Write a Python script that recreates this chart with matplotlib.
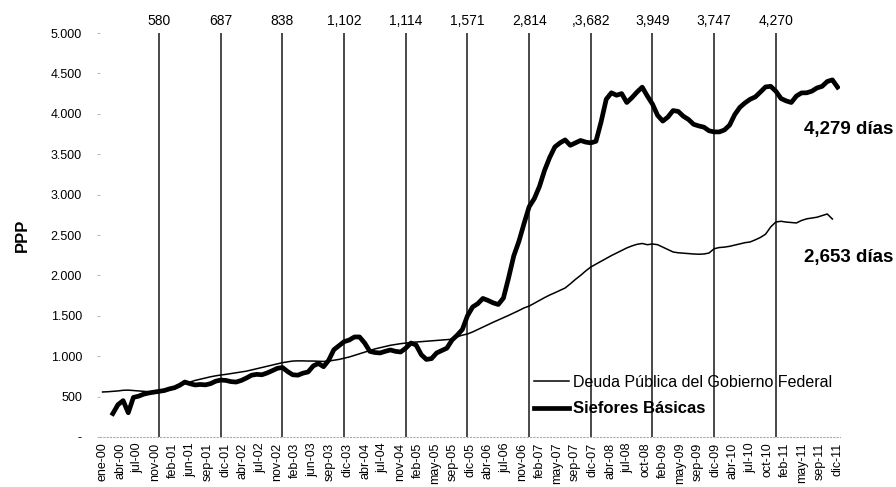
"""Plazo promedio ponderado (PPP): Siefores Basicas vs Deuda Publica."""

import matplotlib.pyplot as plt
import numpy as np
import pandas as pd

plt.rcParams["font.family"] = ["Liberation Sans", "DejaVu Sans"]

# Monthly series, ene-00 .. dic-11
deuda = [
    557, 560, 565, 570, 578, 580, 575, 570, 565, 560, 557, 560,
    590, 605, 620, 640, 660, 680, 700, 715, 730, 745, 757, 767,
    775, 785, 795, 805, 815, 830, 845, 860, 875, 890, 905, 920,
    930, 940, 942, 942, 940, 940, 938, 935, 940, 950, 960, 975,
    990, 1010, 1030, 1050, 1070, 1090, 1105, 1120, 1135, 1145, 1155, 1163,
    1170, 1175, 1180, 1185, 1190, 1195, 1200, 1205, 1210, 1240, 1260, 1275,
    1300, 1330, 1360, 1390, 1420, 1448, 1475, 1505, 1535, 1565, 1597, 1620,
    1655, 1690, 1725, 1757, 1785, 1815, 1844, 1895, 1950, 2000, 2055, 2104,
    2140, 2175, 2210, 2245, 2277, 2310, 2340, 2365, 2385, 2395, 2380, 2389,
    2380, 2350, 2320, 2290, 2280, 2275, 2270, 2265, 2262, 2265, 2277, 2330,
    2345, 2350, 2360, 2375, 2390, 2405, 2414, 2440, 2470, 2510, 2600, 2661,
    2670, 2660, 2655, 2649, 2680, 2700, 2710, 2720, 2740, 2760, 2698, np.nan,
]
siefores = [
    np.nan, np.nan, 290, 400, 450, 300, 490, 505, 530, 545, 555, 565,
    575, 595, 610, 640, 680, 660, 644, 650, 645, 660, 690, 705,
    700, 685, 680, 700, 730, 765, 775, 770, 792, 820, 850, 860,
    810, 770, 765, 790, 805, 880, 910, 870, 950, 1080, 1130, 1180,
    1200, 1238, 1238, 1163, 1060, 1045, 1040, 1060, 1077, 1060, 1052, 1100,
    1163, 1139, 1020, 960, 970, 1040, 1070, 1100, 1200, 1260, 1330, 1500,
    1609, 1650, 1715, 1690, 1660, 1640, 1720, 1970, 2240, 2420, 2640, 2850,
    2950, 3100, 3300, 3460, 3590, 3640, 3677, 3610, 3640, 3670, 3650, 3640,
    3660, 3900, 4180, 4260, 4230, 4250, 4140, 4200, 4270, 4330, 4220, 4120,
    3980, 3910, 3960, 4040, 4030, 3970, 3930, 3870, 3850, 3835, 3790, 3776,
    3776, 3800, 3860, 3990, 4080, 4135, 4180, 4209, 4270, 4333, 4340, 4280,
    4190, 4160, 4140, 4220, 4259, 4260, 4280, 4320, 4340, 4400, 4420, 4330,
]

# PPP de las Siefores al cierre de cada anio (2000-2010)
cierre_labels = ["580", "687", "838", "1,102", "1,114", "1,571",
                 "2,814", ",3,682", "3,949", "3,747", "4,270"]

tick_labels = [
    "ene-00", "abr-00", "jul-00", "nov-00", "feb-01", "jun-01", "sep-01",
    "dic-01", "abr-02", "jul-02", "nov-02", "feb-03", "jun-03", "sep-03",
    "dic-03", "abr-04", "jul-04", "nov-04", "feb-05", "may-05", "sep-05",
    "dic-05", "abr-06", "jul-06", "nov-06", "feb-07", "may-07", "sep-07",
    "dic-07", "abr-08", "jul-08", "oct-08", "feb-09", "may-09", "sep-09",
    "dic-09", "abr-10", "jul-10", "oct-10", "feb-11", "may-11", "sep-11",
    "dic-11",
]

final_siefores = "4,279 días"
final_deuda = "2,653 días"

dates = pd.date_range("2000-01-01", periods=len(siefores), freq="MS")
x = np.arange(len(dates))
dic_idx = x[(dates.month == 12) & (dates.year <= 2010)]

fig = plt.figure(figsize=(8.96, 4.87), dpi=100)
ax = fig.add_axes([0.1116, 0.1027, 0.826, 0.8295])

for i, lab in zip(dic_idx, cierre_labels):
    ax.axvline(i, color="#2a2a2a", lw=1.2, zorder=1)
    ax.text(i, 5150, lab, ha="center", va="center", fontsize=10,
            clip_on=False)

ax.plot(x, deuda, color="black", lw=1.1, zorder=3,
        label="Deuda Pública del Gobierno Federal")
ax.plot(x, siefores, color="black", lw=3.4, zorder=4,
        label="Siefores Básicas", solid_joinstyle="round")

ax.set_xlim(-0.5, len(x) - 0.5)
ax.set_ylim(0, 5000)

yt = np.arange(0, 5001, 500)
ax.set_yticks(yt)
ax.set_yticklabels(["-"] + [f"{v:,}".replace(",", ".") for v in yt[1:]],
                   fontsize=9)
ax.tick_params(axis="y", length=2, color="#bbbbbb", pad=11)
ax.set_ylabel("PPP", fontsize=12, fontweight="bold", labelpad=15)

ax.set_xticks(np.linspace(0, len(x) - 1, len(tick_labels)))
ax.set_xticklabels(tick_labels, rotation=90, fontsize=9)
ax.tick_params(axis="x", length=0, pad=4)

for side in ["left", "right", "top"]:
    ax.spines[side].set_visible(False)
ax.spines["bottom"].set_color("#aaaaaa")
ax.spines["bottom"].set_linestyle((0, (1, 2)))
ax.spines["bottom"].set_linewidth(0.8)

ax.text(0.997, 0.734, final_siefores, transform=fig.transFigure,
        ha="right", va="center", fontsize=13.5, fontweight="bold")
ax.text(0.997, 0.472, final_deuda, transform=fig.transFigure,
        ha="right", va="center", fontsize=13.5, fontweight="bold")

leg = ax.legend(loc="upper left", bbox_to_anchor=(534 / 896, 1 - 375 / 487),
                bbox_transform=fig.transFigure, frameon=False, fontsize=11.5,
                handlelength=2.2, handletextpad=0.25, labelspacing=0.7,
                borderaxespad=0, borderpad=0)
leg.get_texts()[1].set_fontweight("bold")
leg.get_texts()[1].set_fontsize(12)

fig.savefig("out.png", dpi=100)
